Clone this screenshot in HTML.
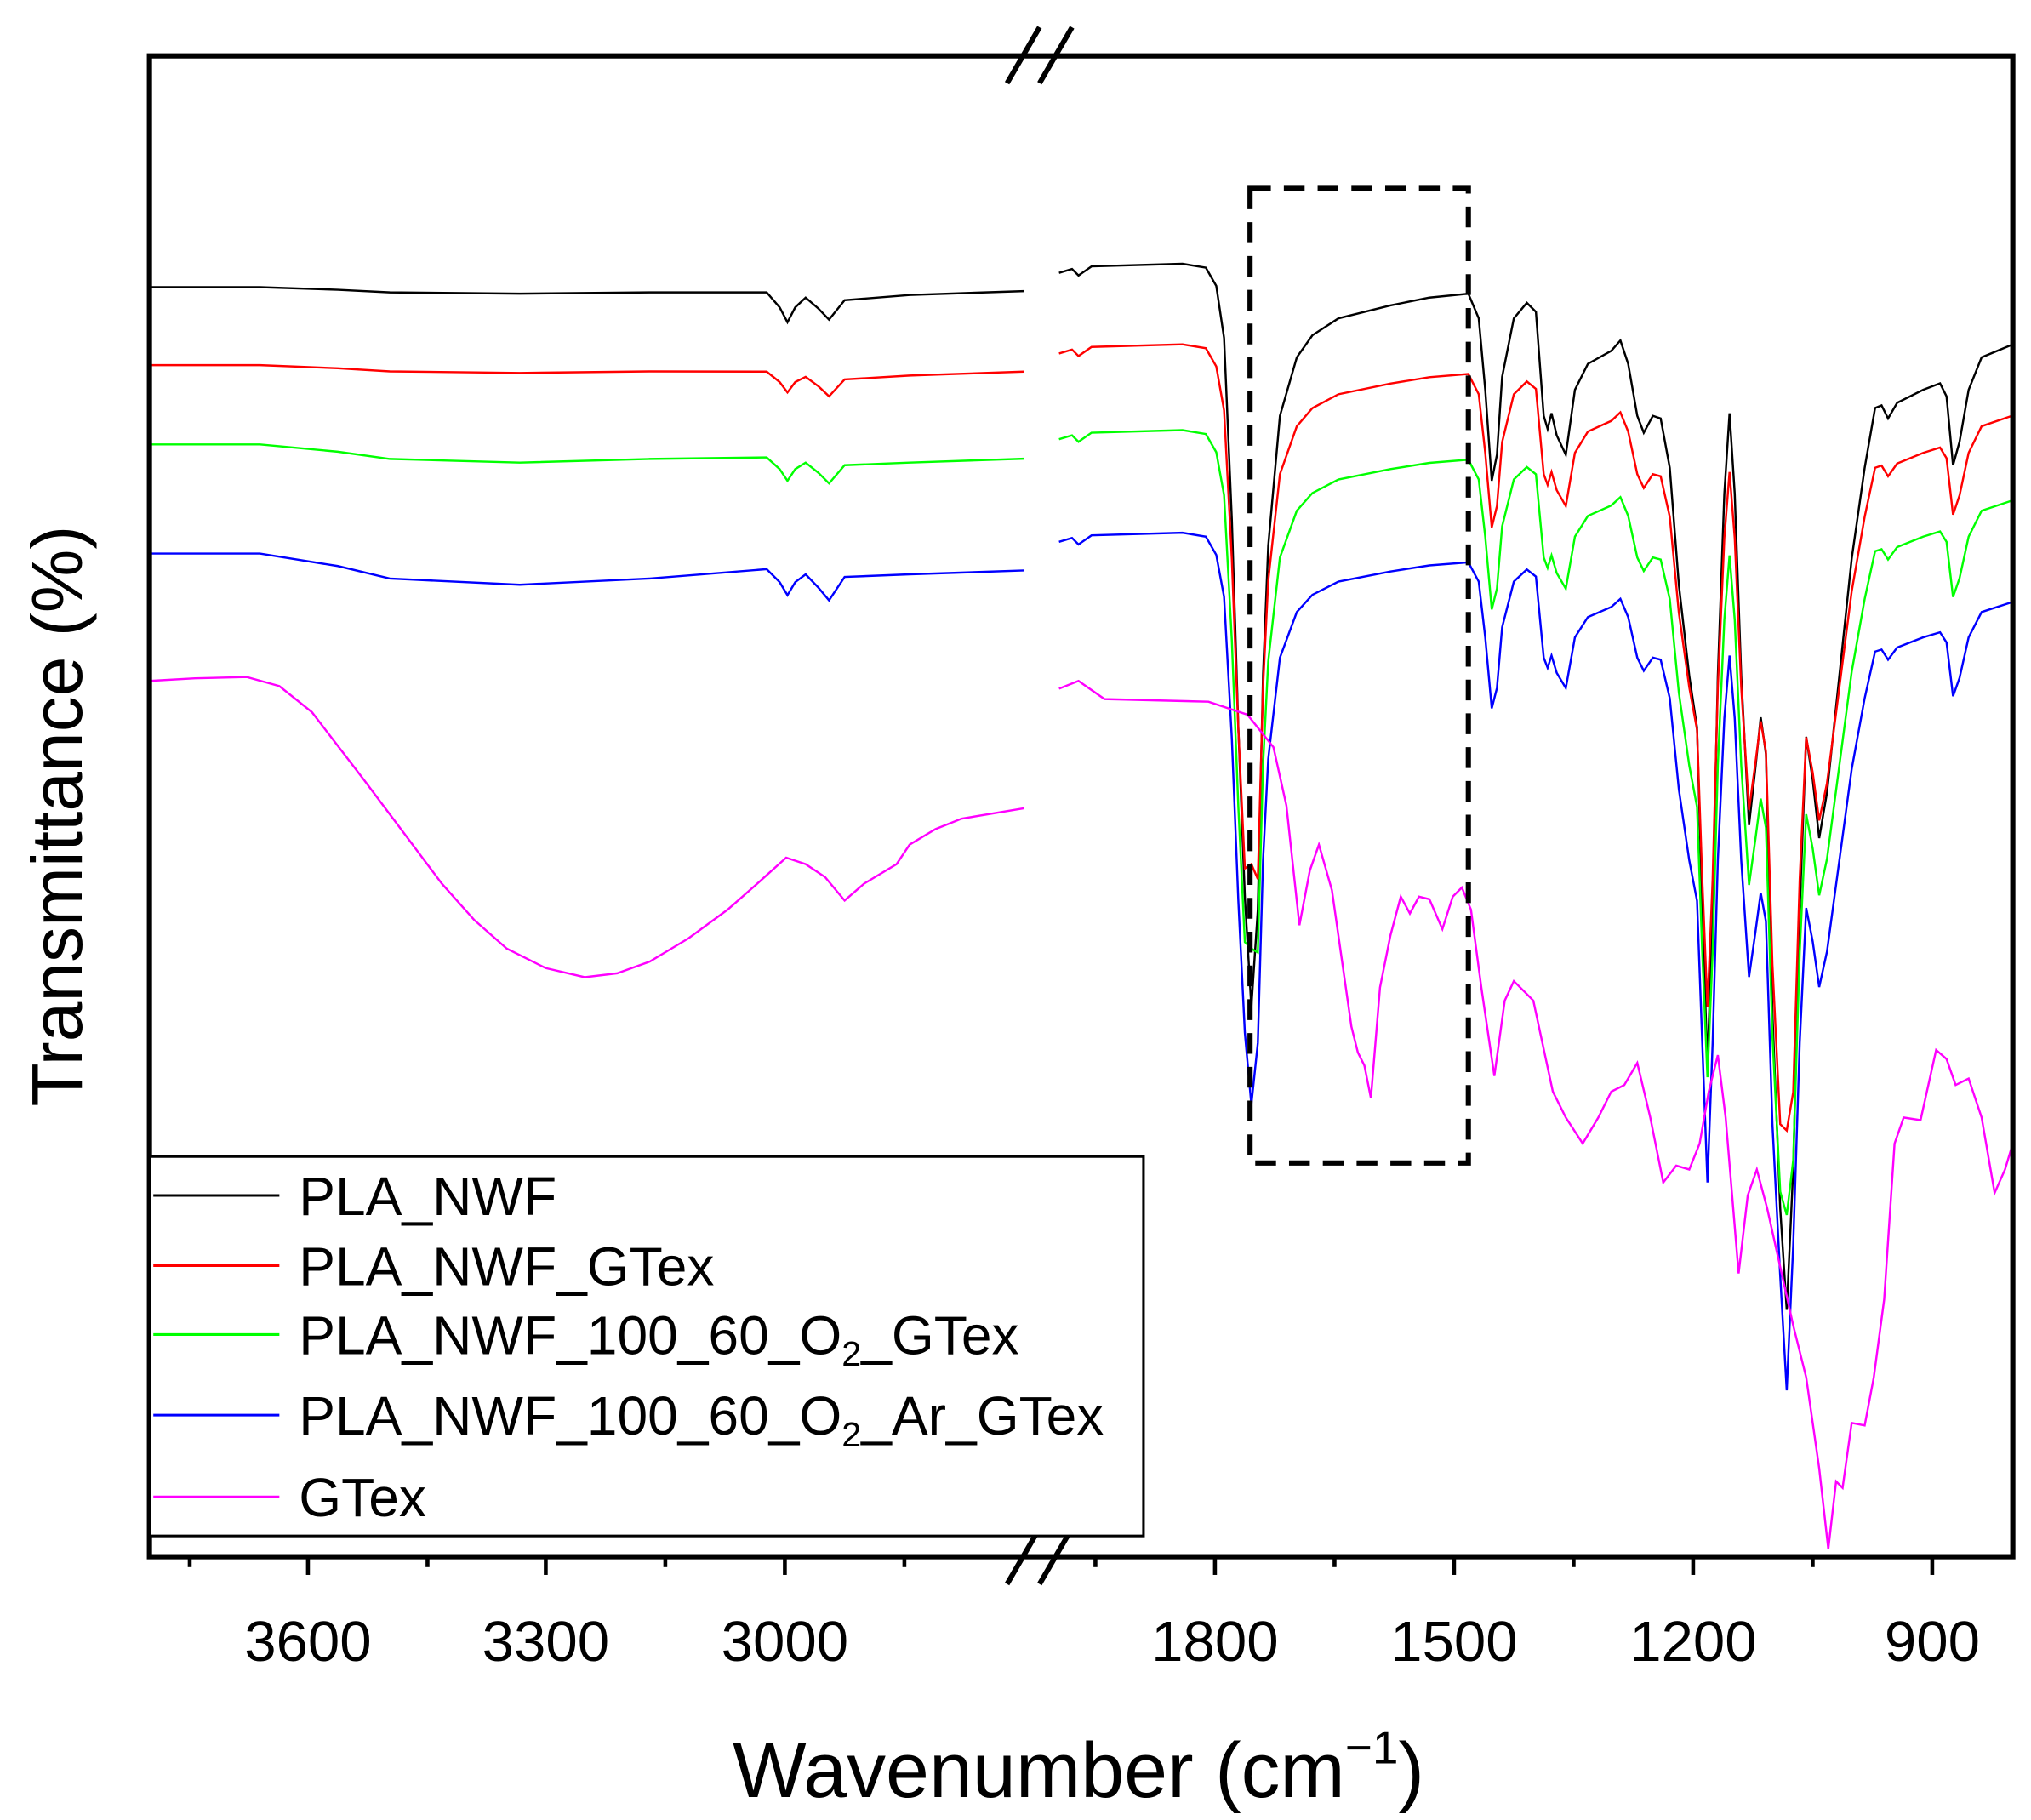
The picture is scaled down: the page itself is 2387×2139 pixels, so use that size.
<!DOCTYPE html>
<html><head><meta charset="utf-8"><style>html,body{margin:0;padding:0;background:#fff}svg{display:block}</style></head>
<body>
<svg id="s" width="2387" height="2139" viewBox="0 0 1563 1400.6" preserveAspectRatio="none" xmlns="http://www.w3.org/2000/svg" font-family="Liberation Sans, sans-serif">
<rect x="0" y="0" width="1563" height="1401" fill="#fff"/>
<g id="curves" fill="none" stroke-width="1.6"></g>
<rect x="115" y="43" width="1434" height="1155" fill="none" stroke="#000" stroke-width="4"/>
<rect x="962" y="145" width="168" height="750" fill="none" stroke="#000" stroke-width="4" stroke-dasharray="16,10"/>
<g stroke="#000" stroke-width="4">
<line x1="775" y1="64" x2="800" y2="21"/><line x1="800" y1="64" x2="825" y2="21"/>
<line x1="775" y1="1219" x2="800" y2="1176"/><line x1="800" y1="1219" x2="825" y2="1176"/>
</g>
<g id="ticks" stroke="#000" stroke-width="3"></g>
<g font-size="44" text-anchor="middle" fill="#000">
<text x="237" y="1278">3600</text><text x="420" y="1278">3300</text><text x="604" y="1278">3000</text>
<text x="935" y="1278">1800</text><text x="1119" y="1278">1500</text><text x="1303" y="1278">1200</text><text x="1487" y="1278">900</text>
</g>
<text x="830" y="1383" font-size="60" text-anchor="middle">Wavenumber (cm<tspan font-size="36" dy="-26">−1</tspan><tspan dy="26">)</tspan></text>
<text transform="translate(63,628) rotate(-90)" font-size="55" text-anchor="middle">Transmittance (%)</text>
<rect x="115" y="890" width="765" height="292" fill="#fff" stroke="#000" stroke-width="2"/>
<g stroke-width="2">
<line x1="118" x2="215" y1="920" y2="920" stroke="#000"/>
<line x1="118" x2="215" y1="974" y2="974" stroke="#f00"/>
<line x1="118" x2="215" y1="1027" y2="1027" stroke="#0f0"/>
<line x1="118" x2="215" y1="1089" y2="1089" stroke="#00f"/>
<line x1="118" x2="215" y1="1152" y2="1152" stroke="#f0f"/>
</g>
<g font-size="42" fill="#000">
<text x="230" y="935">PLA_NWF</text>
<text x="230" y="989">PLA_NWF_GTex</text>
<text x="230" y="1042">PLA_NWF_100_60_O<tspan font-size="27" dy="9">2</tspan><tspan dy="-9">_GTex</tspan></text>
<text x="230" y="1104">PLA_NWF_100_60_O<tspan font-size="27" dy="9">2</tspan><tspan dy="-9">_Ar_GTex</tspan></text>
<text x="230" y="1167">GTex</text>
</g>
<script>
var ns="http://www.w3.org/2000/svg";
var t=document.getElementById('ticks');
function tk(x,l){var e=document.createElementNS(ns,'line');e.setAttribute('x1',x);e.setAttribute('x2',x);e.setAttribute('y1',1198);e.setAttribute('y2',1198+l);t.appendChild(e);}
[146,329,512,696].forEach(x=>tk(x,8));[237,420,604].forEach(x=>tk(x,14));
[843,1027,1211,1395].forEach(x=>tk(x,8));[935,1119,1303,1487].forEach(x=>tk(x,14));
var g=document.getElementById('curves');
function pl(pts,c){var e=document.createElementNS(ns,'polyline');e.setAttribute('points',pts.map(p=>p.join(',')).join(' '));e.setAttribute('stroke',c);g.appendChild(e);}
var R=[[815,210],[825,207],[830,212],[840,205],[910,203],[928,206],[936,220],[942,260],[948,400],[953,560],[958,690],[963,775],[968,700],[972,520],[976,420],[985,320],[998,275],[1010,258],[1030,245],[1070,235],[1100,229],[1130,226],[1138,245],[1143,300],[1148,370],[1152,350],[1156,290],[1165,245],[1175,233],[1182,240],[1188,320],[1191,330],[1194,318],[1198,335],[1205,350],[1212,300],[1222,280],[1240,270],[1247,262],[1253,280],[1260,320],[1265,333],[1272,320],[1278,322],[1285,360],[1292,450],[1300,520],[1306,560],[1310,700],[1314,820],[1318,700],[1322,520],[1327,380],[1331,318],[1335,380],[1340,520],[1346,635],[1351,590],[1355,552],[1359,580],[1364,780],[1370,930],[1375,1008],[1380,900],[1385,700],[1390,567],[1395,600],[1400,645],[1406,610],[1415,525],[1425,430],[1435,360],[1443,314],[1448,312],[1453,322],[1460,310],[1480,300],[1493,295],[1498,305],[1503,358],[1508,340],[1515,300],[1525,275],[1549,265]];
function tr(pts,off,k,b){return pts.map(p=>{var y=p[1];var d=y-b;return [p[0],b+off+(d>0?d*k:d)];});}
function left(y0,drop,dipBase,d1,d2,end){
 return [[115,y0],[200,y0],[260,y0+drop*0.4],[300,y0+drop*0.8],[400,y0+drop],[500,y0+drop*0.8],[590,dipBase],[600,dipBase+d1*0.5],[606,dipBase+d1],[612,dipBase+d1*0.5],[620,dipBase+4],[630,dipBase+d2*0.6],[638,dipBase+d2],[650,dipBase+6],[700,end+3],[788,end]];
}
var lefts={'#000':left(221,5,225,23,21,224),'#f00':left(281,6,286,16,19,286),'#0f0':left(342,14,352,18,20,353),'#00f':left(426,24,438,20,24,439)};
var series=[['#000',0,1],['#f00',62,0.82],['#0f0',128,0.8],['#00f',207,0.78]];
var over={'#00f':{963:850,1375:1070,1314:910},'#0f0':{963:730,1375:935},'#f00':{963:665,1375:870}};
series.forEach(s=>{
 pl(lefts[s[0]],s[0]);
 var rp=tr(R,s[1],s[2],225);
 if(over[s[0]])rp=rp.map(p=>over[s[0]][p[0]]?[p[0],over[s[0]][p[0]]]:p);
 pl(rp,s[0]);
});
pl([[115,524],[150,522],[190,521],[215,528],[240,548],[280,600],[310,640],[340,680],[365,708],[390,730],[420,745],[450,752],[475,749],[500,740],[530,722],[560,700],[585,678],[605,660],[620,665],[635,675],[650,693],[665,680],[690,665],[700,650],[720,638],[740,630],[788,622]],'#f0f');
pl([[815,530],[830,524],[850,538],[930,540],[960,550],[980,575],[990,620],[1000,712],[1008,670],[1015,650],[1025,685],[1040,790],[1045,810],[1050,820],[1055,845],[1062,760],[1070,720],[1078,690],[1085,703],[1092,690],[1100,692],[1110,715],[1118,690],[1125,683],[1132,700],[1140,760],[1150,828],[1158,770],[1165,755],[1180,770],[1195,840],[1205,860],[1218,880],[1230,860],[1240,840],[1250,835],[1260,818],[1270,860],[1280,910],[1290,897],[1300,900],[1308,880],[1315,840],[1322,812],[1328,860],[1338,980],[1345,920],[1352,900],[1360,930],[1370,975],[1380,1020],[1390,1060],[1400,1130],[1407,1192],[1413,1140],[1418,1145],[1425,1095],[1435,1097],[1442,1060],[1450,1000],[1458,880],[1465,860],[1478,862],[1490,808],[1498,815],[1505,835],[1515,830],[1525,860],[1535,918],[1543,900],[1549,880]],'#f0f');
</script>
</svg>
</body></html>
